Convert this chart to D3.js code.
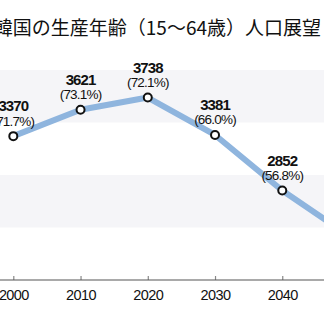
<!DOCTYPE html>
<html><head><meta charset="utf-8">
<script src="https://cdn.jsdelivr.net/npm/d3@7"></script>
<style>body{margin:0;background:#fff}svg{display:block}</style>
</head><body>
<svg id="c" width="324" height="326"></svg>
<script>
const title = "韓国の生産年齢（15～64歳）人口展望";
const years = [2000, 2010, 2020, 2030, 2040, 2050];
const population = [3370, 3621, 3738, 3381, 2852, 2419];
const shares = ["71.7", "73.1", "72.1", "66.0", "56.8", "51.1"];
const tickYears = [2000, 2010, 2020, 2030, 2040];
const bandEdges = [[3500, 4000], [2500, 3000]];

const svg = d3.select("#c");
const x = d3.scaleLinear().domain([2000, 2050]).range([13.3, 349.5]);
const y = d3.scaleLinear().domain([2000, 4000]).range([280, 70]);

svg.append("text").attr("x", 321).attr("y", 35).attr("text-anchor", "end")
  .attr("font-family", "'Noto Sans CJK JP'").attr("font-size", 19).attr("fill", "#111").text(title);

svg.selectAll("rect.band").data(bandEdges).join("rect").attr("class", "band")
  .attr("x", 0).attr("width", 324)
  .attr("y", d => y(d[1])).attr("height", d => y(d[0]) - y(d[1]))
  .attr("fill", "#f5f5f8");

const axis = d3.axisBottom(x).tickValues(tickYears).tickFormat(d3.format("d")).tickSizeInner(-4).tickSizeOuter(0).tickPadding(10);
const ga = svg.append("g").attr("transform", `translate(0,${y(2000)})`).call(axis);
ga.select(".domain").remove();
svg.append("line").attr("x1", 0).attr("x2", 324).attr("y1", y(2000)).attr("y2", y(2000)).attr("stroke", "#555").attr("stroke-width", 1.2);
ga.selectAll(".tick line").attr("stroke", "#888").attr("stroke-width", 1.2);
ga.selectAll(".tick text").attr("font-family", "'Liberation Sans'").attr("font-size", 14.5)
  .attr("letter-spacing", -0.6).attr("fill", "#111");

const pts = years.map((yr, i) => ({yr, v: population[i], s: shares[i]}));
svg.append("path").datum(pts)
  .attr("d", d3.line().x(d => x(d.yr)).y(d => y(d.v)))
  .attr("fill", "none").attr("stroke", "#8fb5de").attr("stroke-width", 6).attr("stroke-linejoin", "round");

svg.selectAll("circle.pt").data(pts).join("circle").attr("class", "pt")
  .attr("cx", d => x(d.yr)).attr("cy", d => y(d.v)).attr("r", 4)
  .attr("fill", "#fff").attr("stroke", "#111").attr("stroke-width", 2);

svg.selectAll("text.num").data(pts).join("text").attr("class", "num")
  .attr("x", d => x(d.yr)).attr("y", d => y(d.v) - 25).attr("text-anchor", "middle")
  .attr("font-family", "'Liberation Sans'").attr("font-weight", "bold").attr("font-size", 15)
  .attr("letter-spacing", -0.9).attr("fill", "#111").text(d => d.v);

svg.selectAll("text.pct").data(pts).join("text").attr("class", "pct")
  .attr("x", d => x(d.yr)).attr("y", d => y(d.v) - 10.5).attr("text-anchor", "middle")
  .attr("font-family", "'Liberation Sans'").attr("font-size", 13.5)
  .attr("letter-spacing", -0.8).attr("fill", "#111").text(d => `(${d.s}%)`);
</script>
</body></html>
